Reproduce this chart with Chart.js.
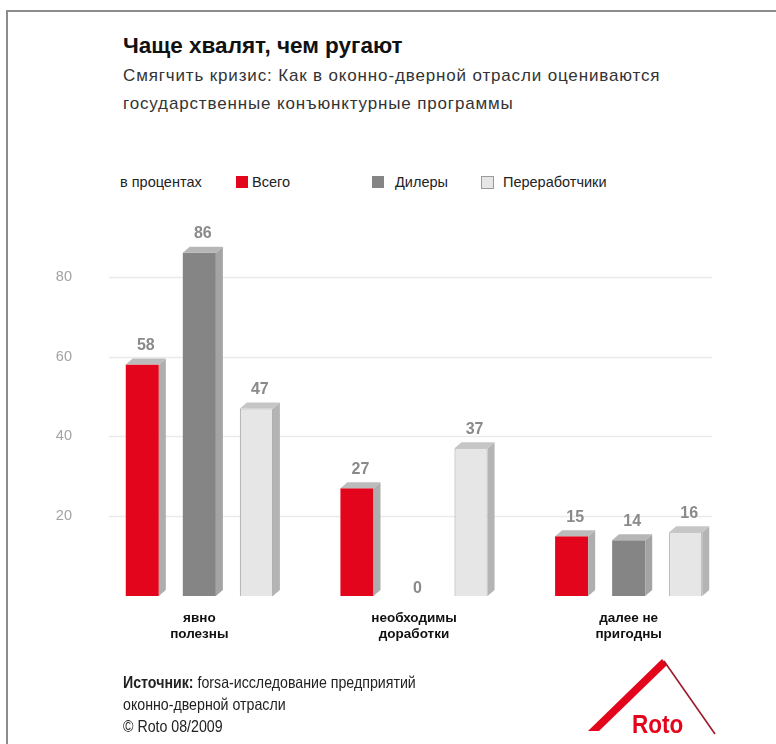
<!DOCTYPE html>
<html>
<head>
<meta charset="utf-8">
<script src="https://cdn.jsdelivr.net/npm/chart.js@4/dist/chart.umd.min.js"></script>
<style>
  html, body { margin: 0; padding: 0; background: #fff; }
  body { width: 776px; height: 744px; position: relative; overflow: hidden; font-family: "Liberation Sans", Arial, sans-serif; color: #222; }
  #frame-top { position: absolute; left: 6px; top: 10px; width: 770px; height: 2px; background: #8c8c8c; }
  #frame-left { position: absolute; left: 6px; top: 10px; width: 2px; height: 734px; background: #8c8c8c; }
  #title { position: absolute; left: 123px; top: 33px; font-size: 22.5px; font-weight: bold; color: #111; }
  #subtitle { position: absolute; left: 123px; top: 62px; font-size: 17px; letter-spacing: 0.85px; line-height: 28px; color: #333; }
  #legend { position: absolute; left: 0; top: 174px; font-size: 14.5px; color: #222; }
  #legend span { position: absolute; white-space: nowrap; }
  #legend .box { width: 12px; height: 12px; top: 2px; }
  #chart { position: absolute; left: 0; top: 0; }
  #source { position: absolute; left: 123px; top: 671px; font-size: 16.5px; line-height: 22px; color: #222; transform: scaleX(0.86); transform-origin: 0 0; white-space: nowrap; }
  #logo { position: absolute; left: 580px; top: 650px; }
</style>
</head>
<body>
<div id="frame-top"></div>
<div id="frame-left"></div>
<div id="title">Чаще хвалят, чем ругают</div>
<div id="subtitle">Смягчить кризис: Как в оконно-дверной отрасли оцениваются<br>государственные конъюнктурные программы</div>
<div id="legend"></div>
<canvas id="chart" width="776" height="744"></canvas>
<div id="source"><b>Источник:</b> forsa-исследование предприятий<br>оконно-дверной отрасли<br>© Roto 08/2009</div>
<svg id="logo" width="150" height="94" viewBox="580 650 150 94">
  <polygon points="588,731 599,731 667,665 662,659" fill="#e3051b"/>
  <line x1="664" y1="661" x2="715" y2="734" stroke="#9c1a2a" stroke-width="1.6"/>
  <text x="632" y="733" transform="translate(632 733) scale(0.9 1) translate(-632 -733)" font-family="Liberation Sans, sans-serif" font-weight="bold" font-size="25" fill="#e3051b">Roto</text>
</svg>
<script>
// data
var categories = [["явно", "полезны"], ["необходимы", "доработки"], ["далее не", "пригодны"]];
var seriesNames = ["Всего", "Дилеры", "Переработчики"];
var allValues = [58, 27, 15];
var dealerValues = [86, 0, 14];
var processorValues = [47, 37, 16];
var yTicks = [20, 40, 60, 80];
var unitLabel = "в процентах";

var frontColors = ["#e3051b", "#858585", "#e6e6e6"];
var sideColors = ["#aeaeae", "#a4a4a4", "#b4b4b4"];
var topColors = ["#bcbcbc", "#b6b6b6", "#c6c6c6"];
var legendBoxX = [236, 372, 481];
var legendTextX = [252, 395, 503];
var D = 7; // 3d depth

// legend in html
var lg = document.getElementById('legend');
lg.innerHTML = '<span style="left:120px">' + unitLabel + '</span>';
seriesNames.forEach(function (n, i) {
  var b = (i == 2) ? 'border:1px solid #9a9a9a;width:11px;height:11px;' : '';
  lg.innerHTML += '<span class="box" style="left:' + legendBoxX[i] + 'px;background:' + frontColors[i] + ';' + b + '"></span>' +
    '<span style="left:' + legendTextX[i] + 'px">' + n + '</span>';
});

const gridLines = {
  id: 'gridLines',
  beforeDatasetsDraw(chart) {
    const ctx = chart.ctx, a = chart.chartArea, y = chart.scales.y;
    ctx.save();
    ctx.strokeStyle = '#eaeaea';
    ctx.lineWidth = 1.5;
    yTicks.forEach(v => {
      const py = Math.round(y.getPixelForValue(v)) + 0.5;
      ctx.beginPath();
      ctx.moveTo(a.left + 17, py);
      ctx.lineTo(a.right - 24, py);
      ctx.stroke();
    });
    ctx.restore();
  }
};

const depth3d = {
  id: 'depth3d',
  afterDatasetsDraw(chart) {
    const ctx = chart.ctx;
    ctx.save();
    chart.data.datasets.forEach((ds, i) => {
      chart.getDatasetMeta(i).data.forEach((bar, j) => {
        const p = bar.getProps(['x', 'y', 'base', 'width'], true);
        const l = p.x - p.width / 2, r = p.x + p.width / 2;
        if (ds.data[j]) {
          ctx.fillStyle = sideColors[i];
          ctx.beginPath();
          ctx.moveTo(r, p.y); ctx.lineTo(r + D, p.y - D + 1); ctx.lineTo(r + D, p.base - D + 1); ctx.lineTo(r, p.base);
          ctx.closePath(); ctx.fill();
          ctx.fillStyle = topColors[i];
          ctx.beginPath();
          ctx.moveTo(l, p.y); ctx.lineTo(l + D, p.y - D + 1); ctx.lineTo(r + D, p.y - D + 1); ctx.lineTo(r, p.y);
          ctx.closePath(); ctx.fill();
        }
        // value label
        ctx.fillStyle = '#8a8a8a';
        ctx.font = 'bold 16px "Liberation Sans", Arial, sans-serif';
        ctx.textAlign = 'center';
        ctx.textBaseline = 'middle';
        const ly = ds.data[j] ? p.y - 19 : p.base - 7;
        ctx.fillText(String(ds.data[j]), p.x + D / 2, ly);
      });
    });
    ctx.restore();
  }
};

var values = [allValues, dealerValues, processorValues];
new Chart(document.getElementById('chart'), {
  type: 'bar',
  data: {
    labels: categories,
    datasets: seriesNames.map((n, i) => ({
      label: n,
      data: values[i],
      backgroundColor: frontColors[i],
      borderColor: i == 2 ? '#a0a0a0' : frontColors[i],
      borderWidth: i == 2 ? 1 : 0,
      categoryPercentage: 0.797,
      barPercentage: 0.58
    }))
  },
  options: {
    responsive: false,
    animation: false,
    layout: { padding: { left: 0, right: 40, top: 197, bottom: 98 } },
    plugins: { legend: { display: false }, tooltip: { enabled: false } },
    scales: {
      x: {
        grid: { display: false },
        border: { display: false },
        afterFit: s => { s.height = 50; },
        ticks: {
          color: '#111',
          padding: 6,
          font: { family: '"Liberation Sans", Arial, sans-serif', size: 13.5, weight: 'bold', lineHeight: 1.2 }
        }
      },
      y: {
        min: 0, max: 100,
        grid: { display: false },
        border: { display: false },
        afterFit: s => { s.width = 92; },
        ticks: {
          stepSize: 20,
          padding: 12,
          color: '#a3a3a3',
          font: { family: '"Liberation Sans", Arial, sans-serif', size: 14.5 },
          callback: v => yTicks.includes(v) ? v : ''
        }
      }
    }
  },
  plugins: [gridLines, depth3d]
});
</script>
</body>
</html>
